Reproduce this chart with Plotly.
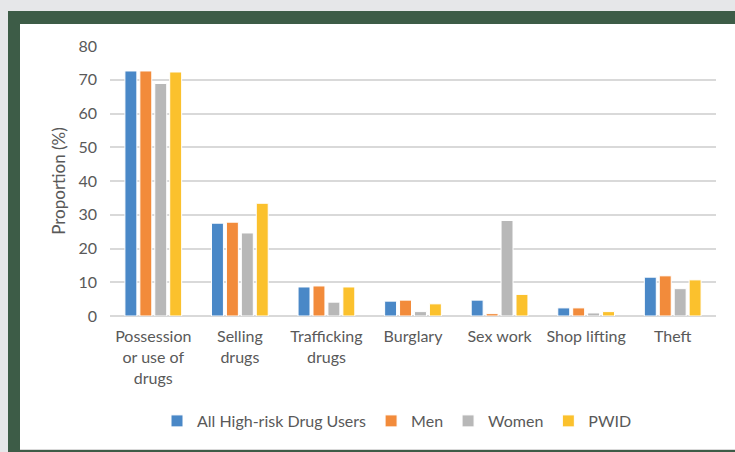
import plotly.graph_objects as go

# ── Data ─────────────────────────────────────────────────────────
categories = [
    'Possession<br>or use of<br>drugs', 'Selling<br>drugs', 'Trafficking<br>drugs',
    'Burglary', 'Sex work', 'Shop lifting', 'Theft',
]
all_users = [72.6, 27.5, 8.6, 4.4, 4.7, 2.4, 11.5]
men       = [72.6, 27.8, 8.9, 4.7, 0.7, 2.4, 11.9]
women     = [68.9, 24.6, 4.1, 1.3, 28.3, 0.9, 8.1]
pwid      = [72.3, 33.4, 8.6, 3.6, 6.4, 1.3, 10.7]

series = [
    ('All High-risk Drug Users', all_users, '#4A88C7'),
    ('Men', men, '#F28B3B'),
    ('Women', women, '#B8B8B8'),
    ('PWID', pwid, '#FBC12D'),
]

TEXT = '#595959'
FONT = 'Lato'

# ── Figure ───────────────────────────────────────────────────────
fig = go.Figure()
for name, vals, color in series:
    fig.add_trace(go.Bar(
        x=categories, y=vals, name=name,
        marker=dict(color=color, line=dict(color='white', width=1)),
    ))

# plot area in pixels: x 110..716, y 46..316
L, R, T, B = 110, 716, 46, 316
W, H = R - L, B - T
px = lambda v: (v - L) / W
py = lambda v: (B - v) / H

# dark green frame with white card inside
shapes = [
    dict(type='rect', xref='paper', yref='paper', layer='below',
         x0=px(8), x1=px(740), y0=py(460), y1=py(11),
         fillcolor='#3D5C47', line=dict(width=0)),
    dict(type='rect', xref='paper', yref='paper', layer='below',
         x0=px(20), x1=px(740), y0=py(450), y1=py(24),
         fillcolor='#D9D9D9', line=dict(width=0)),
    dict(type='rect', xref='paper', yref='paper', layer='below',
         x0=px(20), x1=px(740), y0=py(449), y1=py(24),
         fillcolor='white', line=dict(width=0)),
]

fig.update_layout(
    width=735, height=452,
    paper_bgcolor='#E6E7E9',
    plot_bgcolor='rgba(0,0,0,0)',
    font=dict(family=FONT, color=TEXT, size=16),
    margin=dict(l=L, r=735 - R, t=T, b=452 - B, pad=0),
    barmode='group', bargap=0.31, bargroupgap=0.2,
    shapes=shapes,
    showlegend=True,
    legend=dict(orientation='h', x=px(397), xanchor='center',
                y=py(421), yanchor='middle',
                font=dict(size=16, color=TEXT),
                bgcolor='rgba(0,0,0,0)', itemwidth=30, traceorder='normal'),
    xaxis=dict(showgrid=False, showline=False, ticks='', ticklabelstandoff=9,
               tickfont=dict(size=16, color=TEXT)),
    yaxis=dict(range=[0, 80], dtick=10, showgrid=True,
               gridcolor='#D9D9D9', gridwidth=1.5,
               zeroline=True, zerolinecolor='#D9D9D9', zerolinewidth=1.5,
               showline=False, ticks='', ticklabelstandoff=12,
               tickfont=dict(size=16, color=TEXT),
               title=dict(text='Proportion (%)', font=dict(size=17, color=TEXT),
                          standoff=8)),
)

fig.write_html('out.html', config={'displayModeBar': False},
               post_script="document.body.style.margin='0';")
